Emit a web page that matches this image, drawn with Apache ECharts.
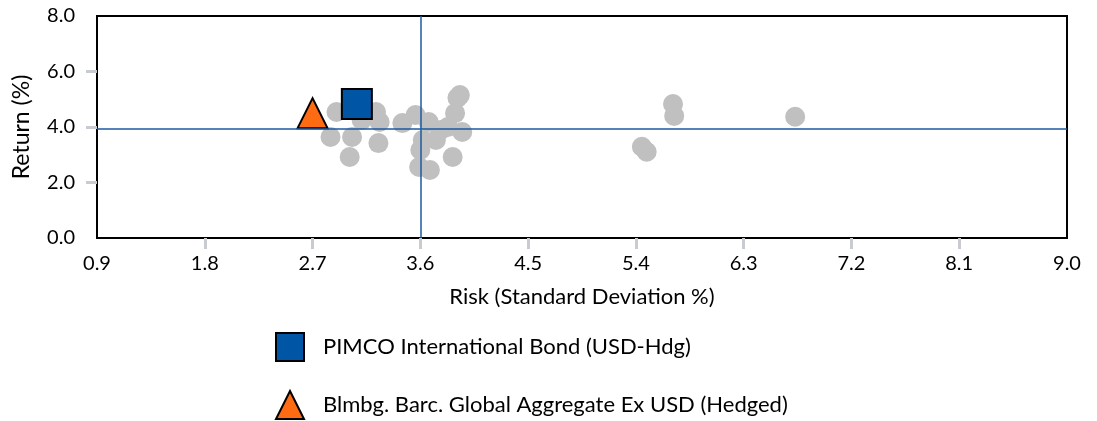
<!DOCTYPE html>
<html>
<head>
<meta charset="utf-8">
<script src="https://cdn.jsdelivr.net/npm/echarts@6/dist/echarts.min.js"></script>
<style>
  html, body { margin: 0; padding: 0; background: #fff; }
  #chart { width: 1097px; height: 421px; }
</style>
</head>
<body>
<div id="chart"></div>
<script>
  // peer group funds: [risk, return]
  var peerRisk = [2.90, 2.85, 3.03, 3.01, 3.23, 3.26, 3.25, 3.11, 3.45, 3.56, 3.67, 3.62, 3.60, 3.59, 3.68,
                  3.77, 3.73, 3.83, 3.95, 3.89, 3.93, 3.91, 3.87, 5.71, 5.72, 5.45, 5.49, 6.73];
  var peerReturn = [4.54, 3.64, 3.64, 2.92, 4.54, 4.18, 3.42, 4.25, 4.14, 4.43, 4.18, 3.53, 3.17, 2.56, 2.45,
                    3.89, 3.53, 4.00, 3.82, 4.50, 5.15, 5.05, 2.92, 4.83, 4.40, 3.29, 3.11, 4.37];

  var fundName = 'PIMCO International Bond (USD-Hdg)';
  var fundPoint = [3.07, 4.83];
  var benchName = 'Blmbg. Barc. Global Aggregate Ex USD (Hedged)';
  var benchPoint = [2.70, 4.50];

  // cross lines (median risk / median return)
  var medianRisk = 3.60;
  var medianReturn = 3.95;

  var xTicks = [0.9, 1.8, 2.7, 3.6, 4.5, 5.4, 6.3, 7.2, 8.1, 9.0];
  var xInnerTicks = [1.8, 2.7, 3.6, 4.5, 5.4, 6.3, 7.2, 8.1];
  var yTicks = [0, 2, 4, 6, 8];
  var yInnerTicks = [2, 4, 6];

  var peerData = peerRisk.map(function (r, i) { return [r, peerReturn[i]]; });

  var chart = echarts.init(document.getElementById('chart'));
  var font = 'Lato, "Open Sans", sans-serif';

  var option = {
    animation: false,
    textStyle: { fontFamily: font },
    grid: {
      left: 97, right: 30, top: 16, bottom: 183,
      show: true, borderColor: '#000', borderWidth: 2, backgroundColor: 'transparent'
    },
    legend: {
      data: [fundName, benchName],
      orient: 'vertical',
      left: 275,
      top: 332,
      padding: 0,
      itemWidth: 28,
      itemHeight: 28,
      itemGap: 28,
      textStyle: { fontFamily: font, fontSize: 22, color: '#000', padding: [0, 0, 0, 14] }
    },
    xAxis: {
      type: 'value',
      min: 0.9, max: 9.0, interval: 0.9,
      name: 'Risk (Standard Deviation %)',
      nameLocation: 'middle',
      nameGap: 48,
      nameTextStyle: { fontSize: 22, color: '#000' },
      axisLine: { show: false },
      axisTick: { show: true, length: 11, lineStyle: { color: '#c8ccd1', width: 3 }, customValues: xInnerTicks },
      axisLabel: {
        fontSize: 20, color: '#000', margin: 16, customValues: xTicks,
        formatter: function (v) { return v.toFixed(1); }
      },
      splitLine: { show: false }
    },
    yAxis: {
      type: 'value',
      min: 0, max: 8, interval: 2,
      name: 'Return (%)',
      nameLocation: 'middle',
      nameGap: 64,
      nameTextStyle: { fontSize: 23, color: '#000' },
      axisLine: { show: false },
      axisTick: { show: true, length: 11, lineStyle: { color: '#c8ccd1', width: 3 }, customValues: yInnerTicks },
      axisLabel: {
        fontSize: 20, color: '#000', margin: 22, customValues: yTicks,
        formatter: function (v) { return v.toFixed(1); }
      },
      splitLine: { show: false }
    },
    series: [
      {
        name: 'Peers',
        type: 'scatter',
        z: 2,
        symbol: 'circle',
        symbolSize: 20,
        itemStyle: { color: '#c0c0c0', opacity: 1 },
        data: peerData
      },
      {
        name: 'cross',
        type: 'line',
        z: 3,
        data: [],
        markLine: {
          silent: true,
          symbol: 'none',
          label: { show: false },
          lineStyle: { color: '#1b5aa3', width: 1.5, type: 'solid' },
          data: [{ xAxis: medianRisk }, { yAxis: medianReturn }]
        }
      },
      {
        name: benchName,
        type: 'scatter',
        z: 4,
        symbol: 'triangle',
        symbolSize: 30,
        itemStyle: { color: '#ff6b12', borderColor: '#000', borderWidth: 2, opacity: 1 },
        data: [benchPoint]
      },
      {
        name: fundName,
        type: 'scatter',
        z: 5,
        symbol: 'rect',
        symbolSize: 30,
        itemStyle: { color: '#0055a5', borderColor: '#000', borderWidth: 2, opacity: 1 },
        data: [fundPoint]
      }
    ]
  };

  chart.setOption(option);
</script>
</body>
</html>
